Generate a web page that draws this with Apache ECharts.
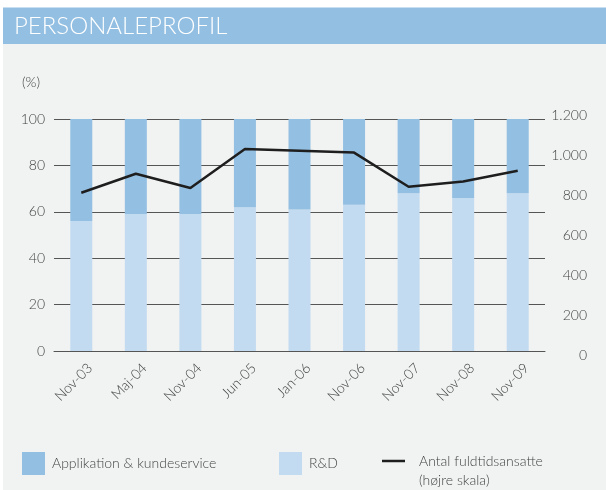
<!DOCTYPE html>
<html>
<head>
<meta charset="utf-8">
<script src="https://cdn.jsdelivr.net/npm/echarts@6/dist/echarts.min.js"></script>
<style>
  html, body { margin: 0; padding: 0; background: #fff; }
  #chart { width: 606px; height: 490px; }
</style>
</head>
<body>
<div id="chart"></div>
<script>
// data
var categories = ['Nov-03', 'Maj-04', 'Nov-04', 'Jun-05', 'Jan-06', 'Nov-06', 'Nov-07', 'Nov-08', 'Nov-09'];
var rdShare = [56, 59, 59, 62, 61, 63, 68, 66, 68];
var appShare = [44, 41, 41, 38, 39, 37, 32, 34, 32];
var headcount = [811, 906, 835, 1030, 1021, 1012, 841, 868, 921];
var leftTicks = [0, 20, 40, 60, 80, 100];
var rightTicks = [0, 200, 400, 600, 800, 1000, 1200];

var fontFam = 'Lato, "Open Sans", sans-serif';
var txt = '#444';
var darkBlue = '#93bfe2';
var lightBlue = '#c3dbf1';

var myChart = echarts.init(document.getElementById('chart'));
myChart.setOption({
  animation: false,
  textStyle: { fontFamily: fontFam, fontWeight: 300 },
  graphic: [
    { type: 'rect', shape: { x: 3, y: 44, width: 603, height: 446 }, style: { fill: '#f1f2f2' }, z: -10 },
    { type: 'rect', shape: { x: 3, y: 7.5, width: 603, height: 36.5 }, style: { fill: darkBlue }, z: -9 },
    { type: 'text', left: 14, top: 14, style: { text: 'PERSONALEPROFIL', fill: '#fff', font: '300 24px ' + fontFam } },
    { type: 'text', left: 22, top: 75, style: { text: '(%)', fill: txt, font: '300 14px ' + fontFam } },
    { type: 'text', left: 419, top: 473, style: { text: '(højre skala)', fill: txt, font: '300 14px ' + fontFam } }
  ],
  legend: [
    {
      left: 22, top: 452, padding: 0, itemWidth: 23, itemHeight: 23,
      textStyle: { color: txt, fontSize: 14, fontWeight: 300, fontFamily: fontFam, padding: [0, 0, 0, 2] },
      data: [{ name: 'Applikation & kundeservice', icon: 'rect' }]
    },
    {
      left: 279, top: 452, padding: 0, itemWidth: 23, itemHeight: 23,
      textStyle: { color: txt, fontSize: 14, fontWeight: 300, fontFamily: fontFam, padding: [0, 0, 0, 2] },
      data: [{ name: 'R&D', icon: 'rect' }]
    },
    {
      left: 382, top: 454, padding: 0, itemWidth: 23, itemHeight: 2.5,
      textStyle: { color: txt, fontSize: 14, fontWeight: 300, fontFamily: fontFam, padding: [0, 0, 0, 9] },
      data: [{ name: 'Antal fuldtidsansatte', icon: 'rect', itemStyle: { color: '#1e1e1e' } }]
    }
  ],
  grid: [
    { left: 54, right: 61, top: 119, bottom: 139 },
    { left: 54, right: 61, top: 115, bottom: 135 }
  ],
  xAxis: [
    {
      type: 'category', gridIndex: 0, data: categories,
      axisLine: { lineStyle: { color: '#555', width: 1 } },
      axisTick: { show: false },
      axisLabel: {
        rotate: 45, color: txt, fontSize: 14, fontWeight: 300, fontFamily: fontFam,
        margin: 6, align: 'right', verticalAlign: 'top', lineHeight: 25
      }
    },
    { type: 'category', gridIndex: 1, data: categories, show: false }
  ],
  yAxis: [
    {
      type: 'value', gridIndex: 0, min: leftTicks[0], max: leftTicks[leftTicks.length - 1], interval: 20,
      axisLine: { show: false }, axisTick: { show: false },
      splitLine: { lineStyle: { color: '#555', width: 1 } },
      axisLabel: { color: txt, fontSize: 14, fontWeight: 300, margin: 9, fontFamily: fontFam }
    },
    {
      type: 'value', gridIndex: 1, position: 'right', min: rightTicks[0], max: rightTicks[rightTicks.length - 1], interval: 200,
      axisLine: { show: false }, axisTick: { show: false }, splitLine: { show: false },
      axisLabel: {
        color: txt, fontSize: 14, fontWeight: 300, margin: 42, align: 'right', fontFamily: fontFam,
        formatter: function (v) { return v >= 1000 ? Math.floor(v / 1000) + '.' + String(v % 1000).padStart(3, '0') : String(v); }
      }
    }
  ],
  series: [
    {
      name: 'R&D', type: 'bar', stack: 'share', xAxisIndex: 0, yAxisIndex: 0,
      barWidth: 22, data: rdShare, itemStyle: { color: lightBlue }
    },
    {
      name: 'Applikation & kundeservice', type: 'bar', stack: 'share', xAxisIndex: 0, yAxisIndex: 0,
      barWidth: 22, data: appShare, itemStyle: { color: darkBlue }
    },
    {
      name: 'Antal fuldtidsansatte', type: 'line', xAxisIndex: 1, yAxisIndex: 1,
      data: headcount, symbol: 'none', z: 5,
      lineStyle: { color: '#1e1e1e', width: 2.5 }, itemStyle: { color: '#1e1e1e' }
    }
  ]
});
</script>
</body>
</html>
